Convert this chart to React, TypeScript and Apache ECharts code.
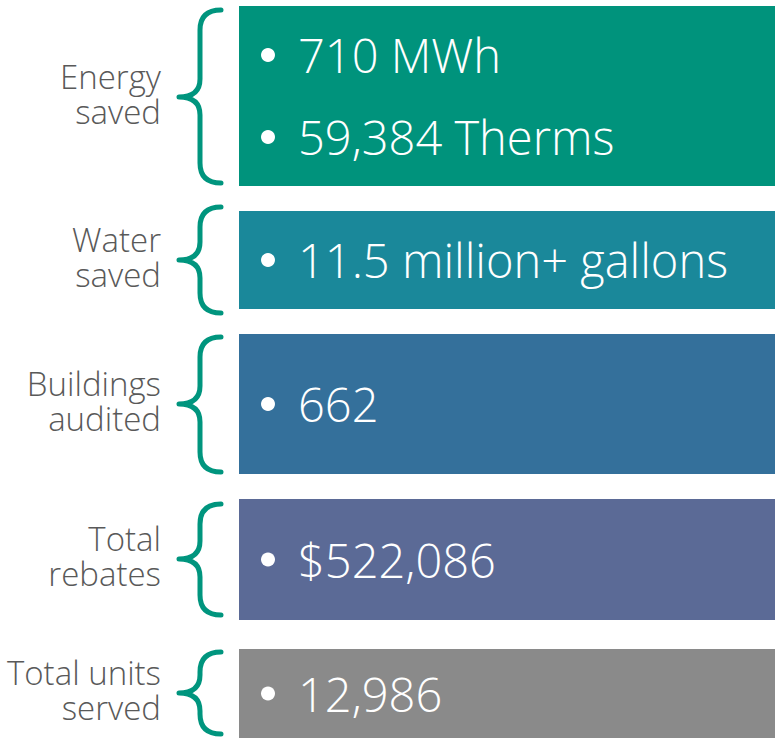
import React, { useEffect, useRef } from "react";
import * as echarts from "echarts";

// ---- data ----
const categories = ["Energy\nsaved", "Water\nsaved", "Buildings\naudited", "Total\nrebates", "Total units\nserved"];
const valueLines: string[][] = [
  ["710 MWh", "59,384 Therms"],
  ["11.5 million+ gallons"],
  ["662"],
  ["$522,086"],
  ["12,986"],
];
const boxColors = ["#00937C", "#1A889A", "#34709B", "#5B6A96", "#8A8A8A"];

// ---- layout (positions / sizes) ----
const W = 775;
const H = 738;
const boxTop = [6, 211, 334, 499, 649];
const boxBottom = [186, 309, 474, 620, 738];
const braceTop = [10, 207, 337, 504, 652];
const braceBottom = [183, 313, 472, 615, 734];
const braceCenter = [97, 260, 404, 559, 693];
const BOX_LEFT = 239;
const BRACE_TIP_X = 179;
const BRACE_MID_X = 200;
const BRACE_END_X = 221;
const LABEL_RIGHT = 161;
const LABEL_GAP = 35;
const LABEL_SHIFT = -3;
const BULLET_X = 268;
const TEXT_X = 298;
const LINE_GAP = 82;
const BRACE_COLOR = "#00957E";
const LABEL_COLOR = "#595959";
const FONT = "'Open Sans', sans-serif";

function bracePath(y0: number, y1: number, ym: number): string {
  const r = 20;
  const t = 18;
  return [
    `M ${BRACE_END_X} ${y0}`,
    `Q ${BRACE_MID_X} ${y0} ${BRACE_MID_X} ${y0 + r}`,
    `L ${BRACE_MID_X} ${ym - t}`,
    `Q ${BRACE_MID_X} ${ym} ${BRACE_TIP_X} ${ym}`,
    `Q ${BRACE_MID_X} ${ym} ${BRACE_MID_X} ${ym + t}`,
    `L ${BRACE_MID_X} ${y1 - r}`,
    `Q ${BRACE_MID_X} ${y1} ${BRACE_END_X} ${y1}`,
  ].join(" ");
}

export default function App() {
  const ref = useRef<HTMLDivElement>(null);
  useEffect(() => {
    if (!ref.current) return;
    const chart = echarts.init(ref.current, null, { renderer: "svg" });
    const option: any = {
      animation: false,
      backgroundColor: "#ffffff",
      series: [
        {
          type: "custom",
          coordinateSystem: "none",
          data: categories.map((c, i) => [i]),
          renderItem: (params: any) => {
            const i = params.dataIndex;
            const top = boxTop[i];
            const bottom = boxBottom[i];
            const center = (top + bottom) / 2;
            const lines = valueLines[i];
            const labelLines = categories[i].split("\n");
            const children: any[] = [
              {
                type: "path",
                shape: { pathData: bracePath(braceTop[i], braceBottom[i], braceCenter[i]) },
                style: { fill: "none", stroke: BRACE_COLOR, lineWidth: 5, lineCap: "round", lineJoin: "round" },
              },
              {
                type: "rect",
                shape: { x: BOX_LEFT, y: top, width: W - BOX_LEFT, height: bottom - top },
                style: { fill: boxColors[i] },
              },
            ];
            labelLines.forEach((ln, k) => {
              const y = braceCenter[i] + LABEL_SHIFT + (k - (labelLines.length - 1) / 2) * LABEL_GAP;
              children.push({
                type: "text",
                style: {
                  text: ln,
                  x: LABEL_RIGHT,
                  y,
                  align: "right",
                  verticalAlign: "middle",
                  fill: LABEL_COLOR,
                  fontFamily: FONT,
                  fontWeight: 300,
                  fontSize: 33,
                },
              });
            });
            lines.forEach((ln, k) => {
              const y = center + (k - (lines.length - 1) / 2) * LINE_GAP;
              children.push({
                type: "circle",
                shape: { cx: BULLET_X, cy: y, r: 7 },
                style: { fill: "#ffffff" },
              });
              children.push({
                type: "text",
                style: {
                  text: ln,
                  x: TEXT_X,
                  y,
                  align: "left",
                  verticalAlign: "middle",
                  fill: "#ffffff",
                  fontFamily: FONT,
                  fontWeight: 300,
                  fontSize: 47,
                },
              });
            });
            return { type: "group", children };
          },
        },
      ],
    };
    chart.setOption(option);
    return () => chart.dispose();
  }, []);
  return (
    <div
      ref={ref}
      style={{ position: "fixed", left: 0, top: 0, width: W, height: H }}
    />
  );
}
